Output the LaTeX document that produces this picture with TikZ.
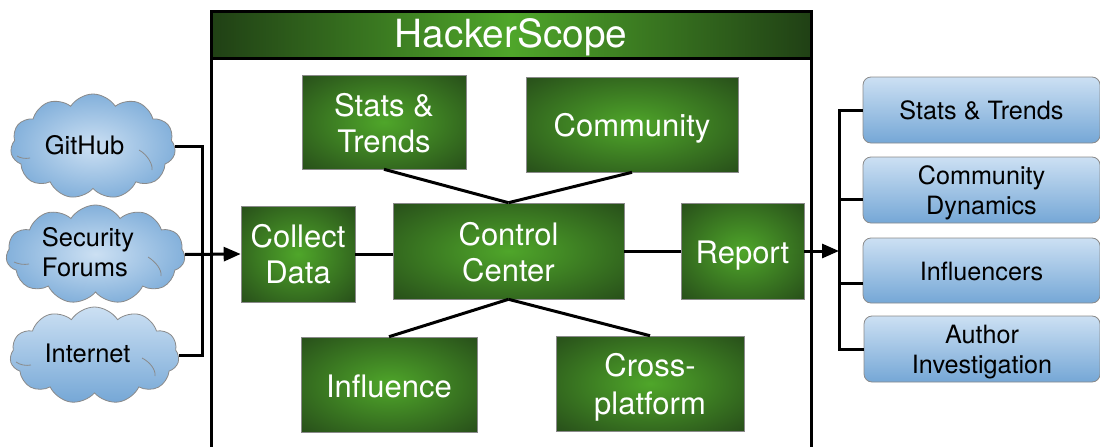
\documentclass[tikz,border=0pt]{standalone}
\usepackage{fontspec}
\setmainfont{TeX Gyre Heros}
\usetikzlibrary{shapes.symbols,arrows.meta}
\definecolor{gin}{HTML}{4FA62A}
\definecolor{gout}{HTML}{28501A}
\definecolor{bin}{HTML}{CCE0F3}
\definecolor{bout}{HTML}{75A7D6}
\definecolor{edgegray}{HTML}{8A8A8A}
\pgfdeclareradialshading{greenrad}{\pgfpointorigin}{color(0bp)=(gin); color(35bp)=(gout); color(50bp)=(gout)}
\pgfdeclareradialshading{bluerad}{\pgfpointorigin}{color(0bp)=(bin); color(30bp)=(bout); color(50bp)=(bout)}
\newcommand{\lift}[1]{\rule{0pt}{#1pt}}
\tikzset{
  x=1pt,y=-1pt,
  greenbox/.style={rectangle,shading=greenrad,draw=edgegray,line width=0.6pt,text=white,align=center,
    inner sep=0pt,font=\fontsize{31}{36}\selectfont},
  header/.style={rectangle,left color=gout!80!black,right color=gout!80!black,middle color=gin,draw=black,line width=3pt,
    text=white,inner sep=0pt,font=\fontsize{38.8}{44}\selectfont},
  bluebox/.style={rectangle,rounded corners=8pt,top color=bin,bottom color=bout,draw=edgegray,line width=0.8pt,
    text=black,align=center,inner sep=0pt,font=\fontsize{25.2}{30}\selectfont},
  source/.style={cloud,cloud puffs=11,cloud puff arc=115,aspect=1.65,draw=edgegray,line width=0.8pt,
    inner sep=0pt},
  sourcetext/.style={text=black,align=left,inner sep=0pt,font=\fontsize{25.5}{30}\selectfont},
  wire/.style={black,line width=3pt},
  flow/.style={black,line width=3pt,-{Triangle[length=17pt,width=14pt]}},
  curl/.style={edgegray,line width=0.8pt},
}
\begin{document}
\begin{tikzpicture}
\useasboundingbox (0,0) rectangle (1100,447);
% frame
\node[header,minimum width=600,minimum height=47] (title) at (511,34.5) {\lift{33.5}HackerScope};
\coordinate (frameL) at (211,447);
\coordinate (frameR) at (811,447);
\draw[wire] (frameL |- title.south) -- (frameL);
\draw[wire] (frameR |- title.south) -- (frameR);
% clouds
\node[source,shading=bluerad,minimum width=165,minimum height=105] (github) at (93,146.5) {};
\node[source,shading=bluerad,minimum width=179,minimum height=99] (forums) at (95.5,254.5) {};
\node[source,top color=bin,bottom color=bout,minimum width=169,minimum height=97] (internet) at (94.5,355.5) {};
\node[sourcetext] (githubt) at (84.5,145) {GitHub};
\node[sourcetext] (forumst) at (88,252) {Security\\Forums};
\node[sourcetext] (internett) at (87.5,353.5) {Internet};
% cloud curls
\draw[curl] (17,156) .. controls (20,158) and (25,159) .. (30,158);
\draw[curl] (139,150) .. controls (148,155) and (153,165) .. (152,170);
\draw[curl] (14,262) .. controls (18,264) and (24,265) .. (29,264);
\draw[curl] (148,257) .. controls (156,262) and (162,270) .. (161,276);
\draw[curl] (16,362) .. controls (20,365) and (26,366) .. (31,365);
\draw[curl] (142,358) .. controls (150,362) and (156,370) .. (155,376);
% green boxes
\node[greenbox,minimum width=164,minimum height=94] (stats) at (384,122) {\lift{24.5}Stats \&\\Trends};
\node[greenbox,minimum width=212,minimum height=95] (community) at (632,124.5) {\lift{30.3}Community};
\node[greenbox,minimum width=114,minimum height=96] (collect) at (298,254) {Collect\\Data};
\node[greenbox,minimum width=231,minimum height=96] (control) at (508.5,251) {\lift{26}Control\\Center};
\node[greenbox,minimum width=123,minimum height=96] (report) at (742.5,251) {\lift{32}Report};
\node[greenbox,minimum width=176,minimum height=95] (influence) at (389,384.5) {\lift{26.5}Influence};
\node[greenbox,minimum width=188,minimum height=95] (cross) at (650,383.5) {\lift{30.3}Cross-\\[2pt]platform};
% right boxes
\node[bluebox,minimum width=237,minimum height=66] (r1) at (981.5,110) {\lift{20}Stats \& Trends};
\node[bluebox,minimum width=237,minimum height=66] (r2) at (981.5,190) {\lift{24.5}Community\\Dynamics};
\node[bluebox,minimum width=237,minimum height=65] (r3) at (981.5,270.5) {\lift{20}Influencers};
\node[bluebox,minimum width=236,minimum height=66] (r4) at (982,349) {\lift{24}Author\\Investigation};
% connectors inside
\draw[wire] (stats.south) -- (control.north);
\draw[wire] (community.south) -- (control.north);
\draw[wire] (influence.north) -- (control.south);
\draw[wire] (cross.north) -- (control.south);
\draw[wire] (collect.east) -- (control.west |- collect.east);
\draw[wire] (control.east) -- (report.west);
% left bus
\coordinate (busL) at (202,253.5);
\draw[wire,line join=miter] (github.east) -- (busL |- github.east) -- (busL |- internet.east) -- (internet.east);
\draw[flow] (forums.east) -- (collect.west);
% right bus
\coordinate (busR) at (839,251);
\draw[flow] (report.east) -- (busR);
\draw[wire,line join=miter] (r1.west) -- (busR |- r1.west) -- (busR |- r4.west) -- (r4.west);
\draw[wire] (busR |- 0,199) -- (863,199);
\draw[wire] (busR |- 0,283) -- (863,283);
\end{tikzpicture}
\end{document}
